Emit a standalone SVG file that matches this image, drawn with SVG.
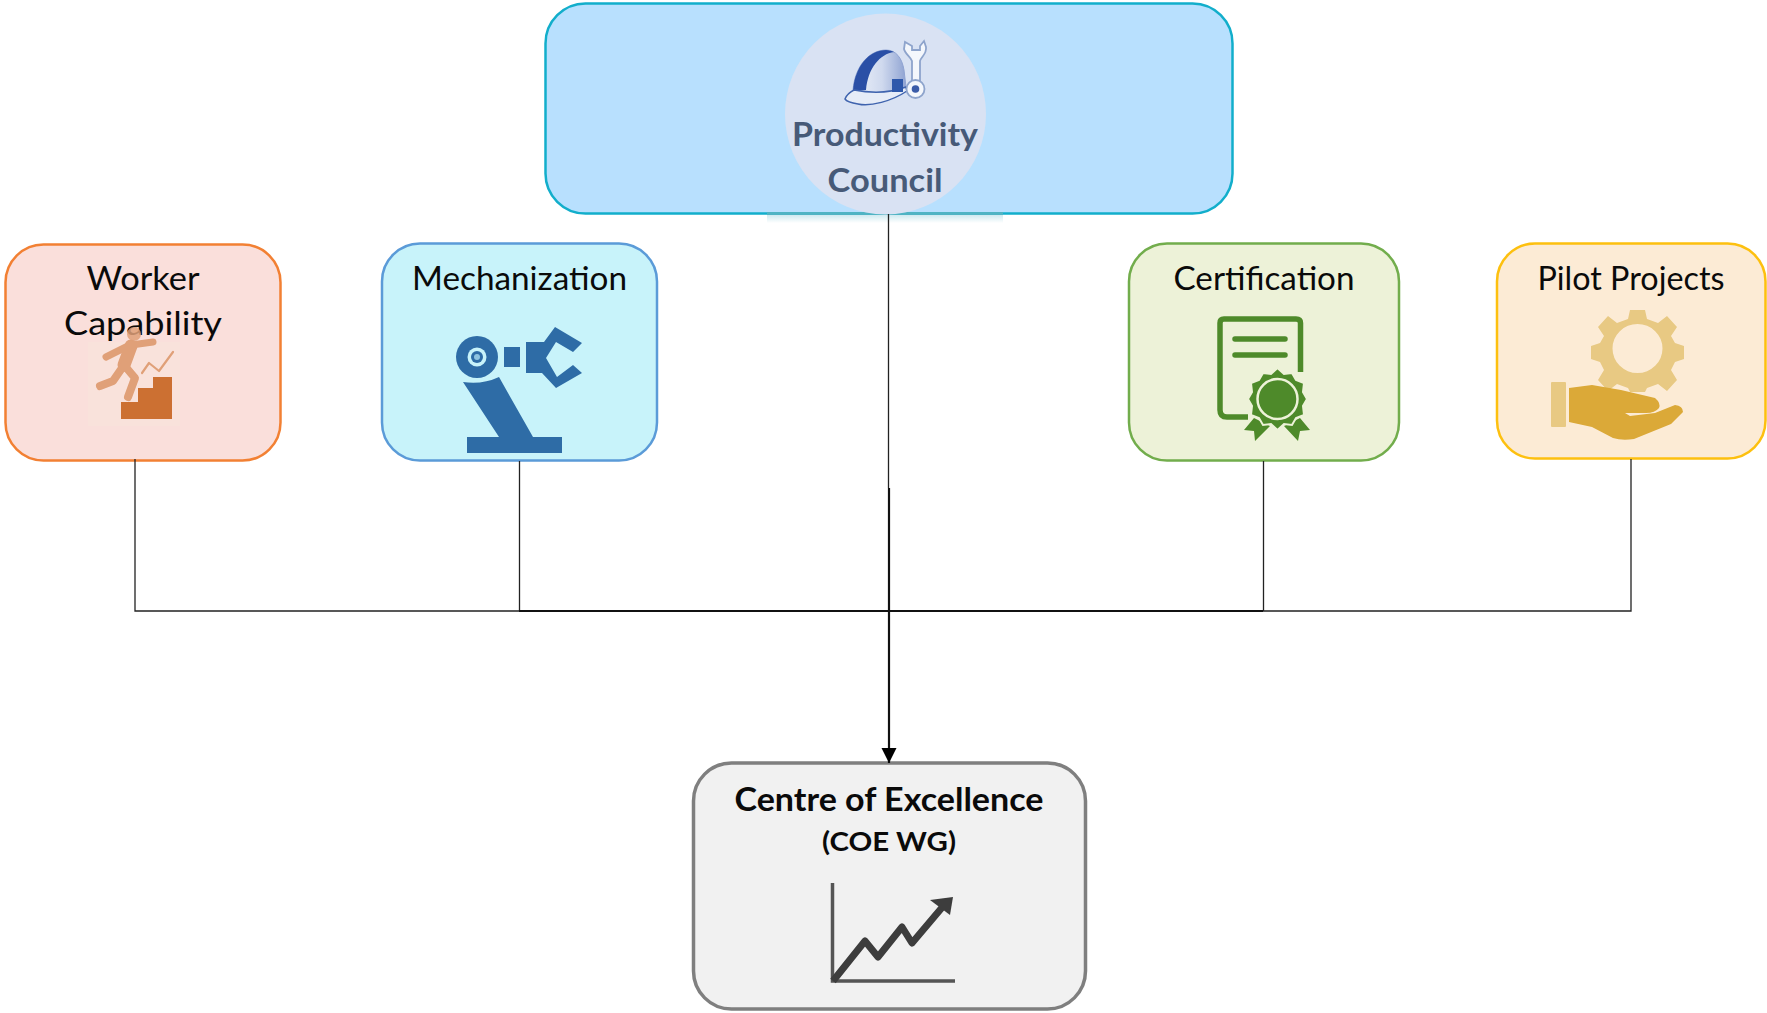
<svg xmlns="http://www.w3.org/2000/svg" width="1767" height="1013" viewBox="0 0 1767 1013">
<defs>
<style>
text{font-family:"Lato","Liberation Sans",sans-serif;text-anchor:middle;fill:#0a0a0a}
.lab{font-size:32px}
.box{stroke-width:2.5}
.conn{fill:none;stroke:#222;stroke-width:1.3}
.main{fill:none;stroke:#111;stroke-width:2.2}
.pc{font-size:32px;font-weight:700;fill:#475a78}
</style>
<linearGradient id="dome" x1="0" x2="1" y1="0" y2="0"><stop offset="0" stop-color="#eef2fa"/><stop offset=".55" stop-color="#cfd9ee"/><stop offset="1" stop-color="#8fa3d2"/></linearGradient>
<linearGradient id="fade" x1="0" x2="0" y1="0" y2="1"><stop offset="0" stop-color="#cfeaf0"/><stop offset="1" stop-color="#fff"/></linearGradient>
<filter id="soft" x="-10%" y="-10%" width="120%" height="120%"><feGaussianBlur stdDeviation="0.7"/></filter>
<marker id="ah" markerUnits="userSpaceOnUse" markerWidth="16" markerHeight="16" refX="15" refY="7.500" orient="auto"><path d="M0 0L15 7.500L0 15Z" fill="#000"/></marker>
</defs>
<rect width="1767" height="1013" fill="#fff"/>
<g id="productivity-council">
<rect class="box" x="545.500" y="3.500" width="687" height="210" rx="40" fill="#b8e0fe" stroke="#12aecb"/>
<rect x="767" y="212" width="236" height="3" fill="#4fb4c4"/>
<rect x="767" y="215" width="236" height="8" fill="url(#fade)"/>
<circle cx="885.500" cy="114" r="100.500" fill="#d9e2f3"/>
<g id="helmet-icon" filter="url(#soft)">
<path d="M853 90C855 65 870 50 886 50C896 50 902 58 904 70L906 87C890 96 870 100 858 100Z" fill="url(#dome)" stroke="#8fa3d2" stroke-width="1"/>
<path d="M853 91C855 65 870 50 886 50C889 50 892 51 894 52C880 54 868 68 866 90Z" fill="#2a50a6"/>
<path d="M845 99C847 94 850 92 854 90C870 93 890 93 906 87L907 91C892 101 870 107 858 104C852 103 847 102 845 99Z" fill="#e6ecf7" stroke="#3f64ae" stroke-width="1.500"/>
<path d="M892 79H903V92H892Z" fill="#2f58ab"/>
<path d="M905 42L904 49C905 54 911 57 912 61V82H920V61C921 57 927 54 926 47L924 41L920 46V50H912V46Z" fill="#f4f7fc" stroke="#8ea4cc" stroke-width="1.800"/>
<circle cx="915.500" cy="89" r="9" fill="#f4f7fc" stroke="#8ea4cc" stroke-width="1.800"/>
<circle cx="915.500" cy="89" r="3.800" fill="#3a5ca8"/>
</g>
<text class="pc" x="885" y="146" textLength="186" lengthAdjust="spacingAndGlyphs">Productivity</text>
<text class="pc" x="885" y="192" textLength="115" lengthAdjust="spacingAndGlyphs">Council</text>
</g>
<g id="worker-capability">
<rect class="box" x="5.500" y="244.500" width="275" height="216" rx="38" fill="#fadfdb" stroke="#f28033"/>
<text class="lab" x="143" y="290" textLength="113" lengthAdjust="spacingAndGlyphs">Worker</text>
<text class="lab" x="143" y="335" textLength="158" lengthAdjust="spacingAndGlyphs">Capability</text>
<rect x="88" y="342" width="92" height="84" fill="#f8e2dc" opacity=".7"/>
<g filter="url(#soft)">
<path d="M121 402H138V388H153V377H172V419H121Z" fill="#cc7033"/>
<g fill="none" stroke="#e0a078" stroke-linecap="round" stroke-linejoin="round">
<path d="M131 346L124 365" stroke-width="13"/>
<path d="M131 345L153 342M126 347L106 357" stroke-width="7"/>
<path d="M124 365L135 378L128 397M122 368L113 381L100 386" stroke-width="8"/>
<path d="M142 373L149 363L159 371L173 352" stroke-width="2.200"/>
</g>
<circle cx="134" cy="334" r="7" fill="#e0a078" opacity=".85"/>
</g>
</g>
<g id="mechanization">
<rect class="box" x="382" y="243.500" width="275" height="217" rx="38" fill="#c8f3fa" stroke="#5b9bd8"/>
<rect x="467" y="437" width="95" height="16" fill="#2e6ca6"/>
<path d="M463 382Q482 385 499 377L533 437H499Z" fill="#2e6ca6"/>
<circle cx="477" cy="357" r="21" fill="#2e6ca6"/>
<circle cx="477" cy="357" r="9.500" fill="#c8f3fa"/>
<circle cx="477" cy="357" r="6" fill="#2e6ca6"/>
<circle cx="477" cy="357" r="3" fill="#8fc4e0"/>
<rect x="504" y="347" width="16" height="20" fill="#2e6ca6"/>
<path d="M526 342H544L555 327L582 343L573 352L556 342L546 358L557 377L573 365L582 373L556 388L542 373H526Z" fill="#2e6ca6"/>
<text class="lab" x="519.500" y="290" textLength="215" lengthAdjust="spacingAndGlyphs">Mechanization</text>
</g>
<g id="certification">
<rect class="box" x="1129" y="243.500" width="270" height="217" rx="38" fill="#edf2d8" stroke="#72ad4c"/>
<path d="M1300.500 372V323Q1300.500 319 1296 319H1224Q1220 319 1220 323V410Q1220 417 1227 417H1248" fill="none" stroke="#4e8a2a" stroke-width="5.500"/>
<path d="M1235 339H1285M1235 355H1285" fill="none" stroke="#4e8a2a" stroke-width="5.500" stroke-linecap="round"/>
<path d="M1254 418L1244 430L1254 431L1255 441L1270 426ZM1300 418L1310 430L1300 431L1298 441L1284 426Z" fill="#4e8a2a"/>
<path d="M1277.500 368L1284 374L1292 373L1296 380L1304 383L1303 392L1307 399L1303 406L1304 415L1296 418L1292 425L1284 424L1277.500 430L1271 424L1263 425L1259 418L1251 415L1252 406L1248 399L1252 392L1251 383L1259 380L1263 373L1271 374Z" fill="#4e8a2a" stroke="#edf2d8" stroke-width="2"/>
<circle cx="1277.500" cy="399" r="20" fill="#4e8a2a" stroke="#edf2d8" stroke-width="2.500"/>
<text class="lab" x="1264" y="290" textLength="181" lengthAdjust="spacingAndGlyphs">Certification</text>
</g>
<g id="pilot-projects">
<rect class="box" x="1497" y="243.500" width="268.500" height="215" rx="38" fill="#fcebd5" stroke="#fdc00f"/>
<g fill="#e8c983" filter="url(#soft)">
<path fill-rule="evenodd" d="M1630 310H1645L1647 319L1658 323L1667 316L1677 327L1671 336L1675 343L1684 346V359L1675 362L1671 370L1677 380L1667 391L1658 384L1647 388L1645 392H1630L1628 388L1617 384L1608 391L1598 380L1604 370L1600 362L1591 359V346L1600 343L1604 336L1598 327L1608 316L1617 323L1628 319ZM1637.500 324A25 24.500 0 1 0 1637.500 373A25 24.500 0 1 0 1637.500 324Z"/>
<rect x="1551" y="382" width="15" height="45" rx="1"/>
</g>
<path d="M1569 388L1592 385L1621 390L1655 398Q1661 403 1659 408Q1655 413 1646 413L1625 413L1630 416L1655 413L1675 405Q1683 406 1683 412L1671 424L1634 439Q1622 441 1613 438L1592 427L1569 422Z" fill="#dba937" filter="url(#soft)"/>
<text class="lab" x="1631" y="290" textLength="187" lengthAdjust="spacingAndGlyphs">Pilot Projects</text>
</g>
<g id="centre-of-excellence">
<rect x="693.500" y="763" width="392" height="246" rx="38" fill="#f1f1f1" stroke="#7f7f7f" stroke-width="3.500"/>
<g filter="url(#soft)">
<path d="M832.500 883V981H955" fill="none" stroke="#555" stroke-width="3.500"/>
<path d="M833 981L865 941L878 957L902 927L912 943L945 904" fill="none" stroke="#3d3d3d" stroke-width="7" stroke-linejoin="round"/>
<path d="M930 900L953 897L950 915Z" fill="#3d3d3d"/>
</g>
<text x="889" y="811" font-size="32" font-weight="700" textLength="309" lengthAdjust="spacingAndGlyphs">Centre of Excellence</text>
<text x="889" y="851" font-size="27" font-weight="700" textLength="134" lengthAdjust="spacingAndGlyphs">(COE WG)</text>
</g>
<g id="connectors">
<path class="conn" d="M888.500 214V488"/>
<path class="conn" d="M135 459V611H1631V459"/>
<path class="conn" d="M519.500 461V611M1263.500 461V611"/>
<path class="main" d="M889 488V611M519 611H1263"/>
<path class="main" d="M889 611V763" marker-end="url(#ah)"/>
</g>
</svg>
